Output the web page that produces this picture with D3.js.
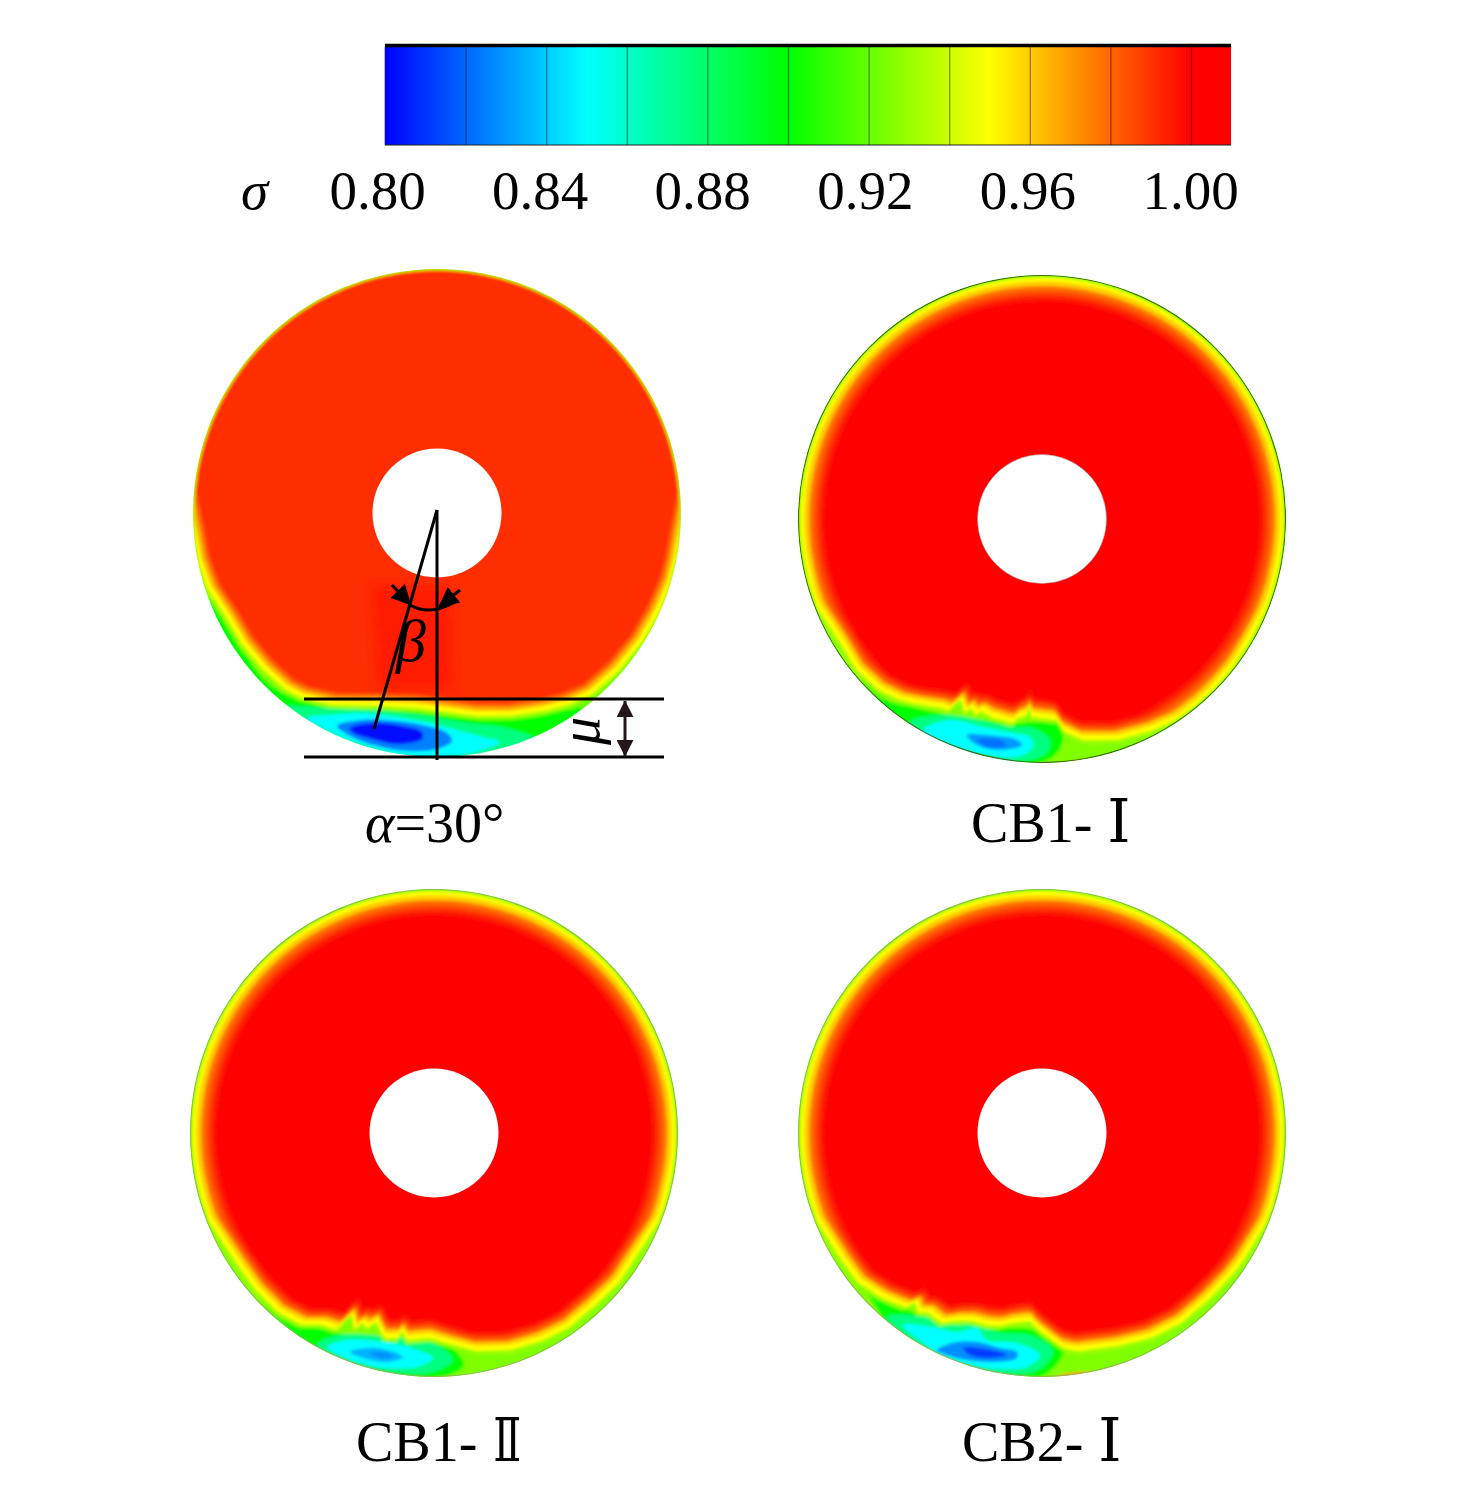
<!DOCTYPE html>
<html>
<head>
<meta charset="utf-8">
<script src="https://d3js.org/d3.v7.min.js"></script>
<style>
  html, body { margin: 0; padding: 0; background: #fff; }
  svg { display: block; }
  text { font-family: "Liberation Serif", "DejaVu Serif", serif; fill: #000; }
</style>
</head>
<body>
<div id="plot"></div>
<script>
/*------------------------------------------*/
/*   Values            */
/*------------------------------------------*/

// colour bar
var sigmaStops = [0.80, 0.85, 0.90, 0.95, 1.00];
var stopColours = ["#0000ff", "#00ffff", "#00ff00", "#ffff00", "#ff0000"];
var bandEdges = [0.82, 0.84, 0.86, 0.88, 0.90, 0.92, 0.94, 0.96, 0.98, 1.00];
var tickValues = [0.80, 0.84, 0.88, 0.92, 0.96, 1.00];

// sigma = 0.95 isoline along the lower part of each disc, [x, y] in disc units
var isoA = [[-252, -30], [-237, 47], [-227, 74], [-210, 100], [-192, 130], [-172, 154], [-150, 174], [-134, 182], [-104, 189], [-60, 190], [-20, 192], [3, 195], [40, 200], [73, 200], [106, 195], [130, 189], [153, 179], [180, 155], [203, 127], [220, 97], [233, 67], [238, 47], [252, -30]];
var isoB = [[-250, -20], [-238, 30], [-227, 80], [-200, 121], [-184, 148], [-162, 168], [-142, 178], [-125, 182], [-99, 186], [-92, 189], [-85, 181], [-80, 178], [-76, 191], [-70, 186], [-65, 193], [-60, 189], [-50, 195], [-29, 201], [-24, 196], [-15, 193], [-13, 183], [-10, 195], [15, 198], [21, 209], [41, 218], [75, 218], [108, 209], [138, 196], [165, 174], [191, 144], [205, 121], [227, 80], [238, 30], [250, -20]];
var isoC = [[-250, -20], [-238, 30], [-227, 80], [-196, 127], [-177, 154], [-154, 177], [-131, 189], [-111, 189], [-96, 194], [-87, 184], [-81, 179], [-78, 194], [-71, 187], [-66, 192], [-57, 186], [-49, 202], [-36, 202], [-31, 195], [-27, 204], [-4, 202], [19, 209], [43, 215], [76, 214], [106, 205], [133, 192], [159, 170], [183, 147], [196, 127], [227, 80], [238, 30], [250, -20]];
var isoD = [[-250, -20], [-238, 30], [-227, 80], [-197, 127], [-182, 147], [-159, 162], [-135, 172], [-125, 167], [-122, 177], [-112, 177], [-99, 187], [-85, 185], [-69, 185], [-55, 189], [-42, 190], [-29, 187], [-12, 185], [-2, 195], [21, 212], [35, 215], [75, 210], [108, 202], [138, 187], [165, 164], [188, 140], [198, 127], [227, 80], [238, 30], [250, -20]];

// low-sigma pockets under the isoline, outermost first
var pocketsA = [
  {sigma: 0.90, points: [[-222, 85], [-200, 125], [-175, 165], [-150, 182], [-110, 193], [-60, 195], [-10, 200], [40, 206], [90, 205], [130, 197], [145, 195], [120, 222], [60, 245], [-20, 250], [-100, 235], [-170, 180], [-235, 100]]},
  {sigma: 0.875, points: [[-155, 195], [-110, 195], [-60, 197], [-10, 203], [30, 210], [70, 215], [100, 228], [60, 245], [0, 250], [-60, 245], [-110, 225]]},
  {sigma: 0.85, points: [[-130, 205], [-107, 202], [-74, 200], [-40, 204], [-7, 210], [20, 217], [46, 224], [63, 229], [46, 237], [0, 244], [-47, 239], [-87, 227], [-114, 215]]},
  {sigma: 0.825, points: [[-100, 213], [-75, 207], [-40, 208], [-10, 213], [10, 220], [15, 228], [0, 236], [-30, 238], [-60, 233], [-85, 224]]},
  {sigma: 0.803, points: [[-87, 215], [-65, 210], [-40, 212], [-15, 219], [-15, 226], [-40, 231], [-65, 226], [-85, 219]]}
];
var pocketsB = [
  {sigma: 0.90, points: [[-192, 141], [-162, 178], [-125, 189], [-92, 196], [-29, 204], [15, 204], [21, 221], [11, 238], [-25, 246], [-109, 222], [-159, 188]]},
  {sigma: 0.875, points: [[-132, 203], [-95, 196], [-29, 208], [-9, 209], [8, 221], [5, 234], [-25, 243], [-69, 234], [-109, 219]]},
  {sigma: 0.85, points: [[-119, 211], [-92, 201], [-55, 209], [-29, 214], [-12, 218], [-9, 228], [-25, 238], [-55, 236], [-92, 228], [-115, 218]]},
  {sigma: 0.83, points: [[-75, 216], [-55, 216], [-25, 221], [-20, 226], [-42, 231], [-65, 226]]},
  {sigma: 0.822, points: [[-65, 221], [-42, 221], [-35, 226], [-55, 228]]}
];
var pocketsC = [
  {sigma: 0.90, points: [[-187, 147], [-154, 185], [-111, 196], [-49, 210], [-4, 209], [19, 216], [30, 232], [15, 242], [-40, 245], [-110, 222], [-160, 184]]},
  {sigma: 0.875, points: [[-117, 212], [-94, 202], [-37, 205], [3, 212], [19, 227], [-1, 239], [-44, 239], [-87, 229]]},
  {sigma: 0.85, points: [[-107, 214], [-87, 207], [-44, 210], [-11, 219], [-1, 225], [-17, 234], [-57, 234], [-91, 224]]},
  {sigma: 0.835, points: [[-84, 219], [-57, 215], [-31, 224], [-47, 229], [-71, 225]]},
  {sigma: 0.828, points: [[-64, 220], [-47, 220], [-41, 224], [-54, 225]]}
];
var pocketsD = [
  {sigma: 0.90, points: [[-179, 147], [-159, 169], [-129, 179], [-99, 192], [-42, 195], [-9, 197], [21, 215], [18, 227], [-2, 244], [-29, 244], [-109, 226], [-149, 199]]},
  {sigma: 0.875, points: [[-155, 184], [-109, 185], [-85, 192], [-65, 189], [-45, 199], [-12, 202], [11, 217], [1, 234], [-25, 242], [-69, 239], [-112, 219]]},
  {sigma: 0.85, points: [[-139, 192], [-109, 194], [-85, 199], [-65, 195], [-55, 207], [-25, 210], [-2, 222], [-15, 234], [-55, 235], [-92, 227], [-119, 210]]},
  {sigma: 0.828, points: [[-105, 217], [-85, 209], [-65, 209], [-42, 215], [-25, 219], [-25, 225], [-55, 229], [-89, 224]]},
  {sigma: 0.812, points: [[-79, 215], [-62, 215], [-35, 222], [-55, 225], [-72, 222]]},
  {sigma: 0.97, points: [[15, 243], [35, 239], [51, 240], [35, 246]]}
];

// pure-red patch behind the beta label in the first disc
var corePatchA = [[-66, 72], [14, 72], [16, 176], [-60, 176]];

// rim isolines: sigma, radius of the circle, radial shift from the 0.95 isoline
var rimLevelsA = [[0.93, 243.6, 7], [0.95, 243.3, 3], [0.965, 243, -2], [0.98, 242.6, -6], [0.991, 242.2, -10]];
var rimLevelsB = [[0.93, 243.2, 7], [0.95, 241.5, 3], [0.96, 237.5, -2], [0.975, 233, -6], [0.985, 229, -9], [0.993, 224, -12], [1.00, 219, -15]];
var rimLevelsC = [[0.93, 243.2, 7], [0.95, 241.5, 3], [0.96, 237.5, -2], [0.975, 233, -6], [0.985, 229, -9], [0.993, 224, -12], [1.00, 219, -15]];
var rimLevelsD = [[0.93, 243.2, 7], [0.95, 241.5, 3], [0.96, 237.5, -2], [0.975, 233, -6], [0.985, 229, -9], [0.993, 224, -12], [1.00, 219, -15]];

var discNames = ["=30\u00b0", "CB1- ", "CB1- ", "CB2- "];
var discNumerals = ["", "\u2160", "\u2161", "\u2160"];

// annotation on the first disc, disc units
var muLevels = [186, 244];
var betaFoot = [-63, 216];

/*------------------------------------------*/
/*   Layout                                 */
/*------------------------------------------*/

var dims = {
  width: 1476, height: 1512,
  bar: {left: 385, right: 1231, top: 47, bottom: 145, tickLeft: 377, tickRight: 1190, zeroX: 1191},
  disc: {radius: 244, hub: 64.5, blur: 1.4, wideBlur: 2.6, patchBlur: 5}
};

var discs = [
  {cx: 437, cy: 513, iso: isoA, pockets: pocketsA, rim: rimLevelsA, base: 0.92, edge: "none", hubEdge: "none", labelX: 365, labelY: 842},
  {cx: 1042, cy: 519, iso: isoB, pockets: pocketsB, rim: rimLevelsB, base: 0.925, edge: "#3f6b1c", hubEdge: "#999", labelX: 971, labelY: 842},
  {cx: 434, cy: 1133, iso: isoC, pockets: pocketsC, rim: rimLevelsC, base: 0.925, edge: "#8fbc55", hubEdge: "none", labelX: 356, labelY: 1461},
  {cx: 1042, cy: 1133, iso: isoD, pockets: pocketsD, rim: rimLevelsD, base: 0.925, edge: "#8fbc55", hubEdge: "none", labelX: 962, labelY: 1461}
];

var svg = d3.select("#plot").append("svg")
    .attr("width", dims.width)
    .attr("height", dims.height);
var defs = svg.append("defs");

var colour = d3.scaleLinear().domain(sigmaStops).range(stopColours);

function addBlur(id, amount) {
  defs.append("filter").attr("id", id)
      .attr("x", "-10%").attr("y", "-10%").attr("width", "120%").attr("height", "120%")
    .append("feGaussianBlur").attr("stdDeviation", amount);
}
addBlur("soft", dims.disc.blur);
addBlur("softWide", dims.disc.wideBlur);
addBlur("softPatch", dims.disc.patchBlur);

/*------------------------------------------*/
/*   Colour bar                             */
/*------------------------------------------*/

var barX = d3.scaleLinear()
    .domain([0.80, 1.00])
    .range([dims.bar.left, dims.bar.zeroX]);

var grad = defs.append("linearGradient").attr("id", "barFill")
    .attr("gradientUnits", "userSpaceOnUse")
    .attr("x1", barX(0.80)).attr("x2", barX(1.00))
    .attr("y1", 0).attr("y2", 0);
grad.selectAll("stop").data(sigmaStops).enter().append("stop")
    .attr("offset", function(d) { return (barX(d) - barX(0.80)) / (barX(1.00) - barX(0.80)); })
    .attr("stop-color", function(d) { return colour(d); });

svg.append("rect")
    .attr("x", dims.bar.left).attr("y", dims.bar.top)
    .attr("width", dims.bar.right - dims.bar.left)
    .attr("height", dims.bar.bottom - dims.bar.top)
    .style("fill", "url(#barFill)");

svg.selectAll(".band").data(bandEdges).enter().append("line")
    .attr("class", "band")
    .attr("x1", function(d) { return barX(d) + 0.5; })
    .attr("x2", function(d) { return barX(d) + 0.5; })
    .attr("y1", dims.bar.top).attr("y2", dims.bar.bottom)
    .style("stroke", "#000").style("stroke-opacity", 0.45).style("stroke-width", 1.2);

// heavy top edge, thin bottom edge
svg.append("line")
    .attr("x1", dims.bar.left).attr("x2", dims.bar.right)
    .attr("y1", 45.5).attr("y2", 45.5)
    .style("stroke", "#000").style("stroke-width", 3.5);
svg.append("line")
    .attr("x1", dims.bar.left).attr("x2", dims.bar.right)
    .attr("y1", dims.bar.bottom).attr("y2", dims.bar.bottom)
    .style("stroke", "#222").style("stroke-width", 1);
svg.append("line")
    .attr("x1", dims.bar.left - 0.5).attr("x2", dims.bar.left - 0.5)
    .attr("y1", dims.bar.top).attr("y2", dims.bar.bottom)
    .style("stroke", "#bbb").style("stroke-width", 1);

var tickX = d3.scaleLinear()
    .domain([0.80, 1.00])
    .range([dims.bar.tickLeft, dims.bar.tickRight]);

var axis = d3.axisBottom(tickX)
    .tickValues(tickValues)
    .tickSize(0)
    .tickPadding(0)
    .tickFormat(d3.format(".2f"));

var axisG = svg.append("g")
    .attr("transform", "translate(0,172)")
    .call(axis);
axisG.select(".domain").remove();
axisG.selectAll("text")
    .attr("dy", null)
    .attr("y", 37)
    .style("font-family", '"Liberation Serif"')
    .style("font-size", "55px");

svg.append("text")
    .attr("x", 241).attr("y", 209)
    .style("font-size", "55px").style("font-style", "italic")
    .text("\u03c3");

/*------------------------------------------*/
/*   Discs                                  */
/*------------------------------------------*/

function offsetPoint(p, shift) {
  var r = Math.sqrt(p[0] * p[0] + p[1] * p[1]);
  return [p[0] * (r + shift) / r, p[1] * (r + shift) / r];
}

function drawDisc(d, i) {

  var R = dims.disc.radius;
  var x = d3.scaleLinear().domain([-R, R]).range([d.cx - R, d.cx + R]),
      y = d3.scaleLinear().domain([-R, R]).range([d.cy - R, d.cy + R]);

  var line = d3.line()
      .x(function(p) { return x(p[0]); })
      .y(function(p) { return y(p[1]); });
  var blob = d3.line()
      .x(function(p) { return x(p[0]); })
      .y(function(p) { return y(p[1]); })
      .curve(d3.curveCatmullRomClosed);

  defs.append("clipPath").attr("id", "disc" + i)
    .append("circle")
      .attr("cx", x(0)).attr("cy", y(0)).attr("r", R);

  var outer = svg.append("g").attr("clip-path", "url(#disc" + i + ")");
  var field = outer.append("g").attr("filter", "url(#soft)");

  field.append("circle")
      .attr("cx", x(0)).attr("cy", y(0)).attr("r", R + 14)
      .style("fill", colour(d.base));

  field.selectAll(".pocket").data(d.pockets).enter().append("path")
      .attr("class", "pocket")
      .attr("d", function(z) { return blob(z.points); })
      .style("fill", function(z) { return colour(z.sigma); });

  // every rim level: its circle, cut off below by the shifted isoline
  d.rim.forEach(function(level, j) {
    var clipId = "rim" + i + "-" + j;
    defs.append("clipPath").attr("id", clipId)
      .append("circle")
        .attr("cx", x(0)).attr("cy", y(0)).attr("r", level[1]);

    var pts = d.iso.map(function(p) { return offsetPoint(p, level[2]); });
    var first = pts[0], last = pts[pts.length - 1];
    var closed = [[-320, first[1]]].concat(pts, [[320, last[1]], [320, -320], [-320, -320]]);

    // the inner levels fade out more slowly towards the red core
    var holder = field.append("g");
    if (level[0] >= 0.98 && i > 0) { holder.attr("filter", "url(#softWide)"); }

    holder.append("path")
        .attr("clip-path", "url(#" + clipId + ")")
        .attr("d", line(closed) + "Z")
        .style("fill", colour(level[0]));
  });

  if (i === 0) {
    field.append("path")
        .attr("filter", "url(#softPatch)")
        .attr("d", line(corePatchA) + "Z")
        .style("fill", colour(0.994));
  }

  if (d.edge !== "none") {
    outer.append("circle")
        .attr("cx", x(0)).attr("cy", y(0)).attr("r", R - 0.5)
        .style("fill", "none").style("stroke", d.edge).style("stroke-width", 1.2);
  }

  svg.append("circle")
      .attr("cx", x(0)).attr("cy", y(0)).attr("r", dims.disc.hub)
      .style("fill", "#fff")
      .style("stroke", d.hubEdge)
      .style("stroke-width", 1)
      .style("stroke-opacity", 0.5);

  var label = svg.append("text")
      .attr("x", d.labelX).attr("y", d.labelY)
      .style("font-size", "56px");

  if (i === 0) {
    label.append("tspan").style("font-style", "italic").text("\u03b1");
    label.append("tspan").text(discNames[i]);
    drawMarks(x, y);
  } else {
    label.append("tspan").text(discNames[i]);
    var numeral = label.append("tspan").style("font-size", "59px").text(discNumerals[i]);
    if (discNumerals[i] === "\u2161") {
      numeral.attr("dx", 2).attr("textLength", 28).attr("lengthAdjust", "spacingAndGlyphs");
    } else {
      numeral.attr("dx", 1);
    }
  }
}

/*------------------------------------------*/
/*   Annotation on the first disc           */
/*------------------------------------------*/

function drawMarks(x, y) {

  var g = svg.append("g")
      .style("stroke", "#000").style("stroke-width", 3).style("fill", "none");

  muLevels.forEach(function(v) {
    g.append("line")
        .attr("x1", x(-133)).attr("x2", x(227))
        .attr("y1", y(v)).attr("y2", y(v));
  });

  g.append("line")
      .attr("x1", x(0)).attr("x2", x(0))
      .attr("y1", y(-3)).attr("y2", y(247));
  g.append("line")
      .attr("x1", x(0)).attr("y1", y(-3))
      .attr("x2", x(betaFoot[0])).attr("y2", y(betaFoot[1]));

  g.append("path")
      .attr("d", "M" + x(-27) + "," + y(92) + "Q" + x(-8) + "," + y(103) + " " + x(16) + "," + y(90));

  var marker = defs.append("marker").attr("id", "head")
      .attr("viewBox", "0 0 10 10").attr("refX", 9).attr("refY", 5)
      .attr("markerWidth", 20).attr("markerHeight", 20)
      .attr("markerUnits", "userSpaceOnUse")
      .attr("orient", "auto-start-reverse");
  marker.append("path").attr("d", "M0,0L10,5L0,10Z").style("fill", "#000").style("stroke", "none");

  g.append("line")
      .attr("x1", x(-45)).attr("y1", y(72))
      .attr("x2", x(-27)).attr("y2", y(91))
      .attr("marker-end", "url(#head)");
  g.append("line")
      .attr("x1", x(23)).attr("y1", y(77))
      .attr("x2", x(3)).attr("y2", y(93))
      .attr("marker-end", "url(#head)");

  var marker2 = defs.append("marker").attr("id", "headDark")
      .attr("viewBox", "0 0 10 10").attr("refX", 9.5).attr("refY", 5)
      .attr("markerWidth", 17).attr("markerHeight", 17)
      .attr("markerUnits", "userSpaceOnUse")
      .attr("orient", "auto-start-reverse");
  marker2.append("path").attr("d", "M0,0L10,5L0,10Z").style("fill", "#231815").style("stroke", "none");

  svg.append("line")
      .attr("x1", x(188)).attr("x2", x(188))
      .attr("y1", y(muLevels[0] + 2)).attr("y2", y(muLevels[1] - 1))
      .attr("marker-start", "url(#headDark)")
      .attr("marker-end", "url(#headDark)")
      .style("stroke", "#231815").style("stroke-width", 3);

  svg.append("text")
      .attr("x", x(-41)).attr("y", y(148))
      .style("font-size", "60px").style("font-style", "italic")
      .text("\u03b2");

  svg.append("text")
      .attr("transform", "translate(" + x(162) + "," + y(232) + ") rotate(-90)")
      .style("font-size", "56px").style("font-style", "italic")
      .text("\u03bc");
}

discs.forEach(drawDisc);
</script>
</body>
</html>
